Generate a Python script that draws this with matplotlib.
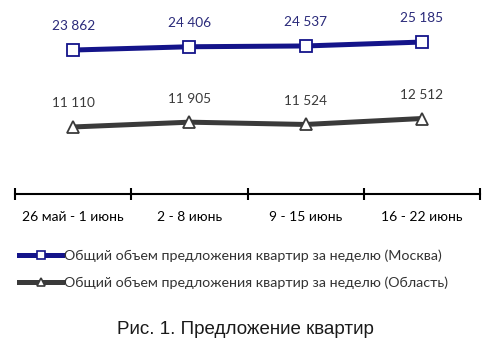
import matplotlib
matplotlib.use("Agg")
import matplotlib.pyplot as plt
from matplotlib.lines import Line2D

categories = ["26 май - 1 июнь", "2 - 8 июнь", "9 - 15 июнь", "16 - 22 июнь"]
moscow = [23862, 24406, 24537, 25185]
oblast = [11110, 11905, 11524, 12512]
moscow_labels = ["23 862", "24 406", "24 537", "25 185"]
oblast_labels = ["11 110", "11 905", "11 524", "12 512"]
series_names = ["Общий объем предложения квартир за неделю (Москва)",
                "Общий объем предложения квартир за неделю (Область)"]
title = "Рис. 1. Предложение квартир"

navy = "#14148a"
gray = "#3a3a3a"
font = ["Lato", "DejaVu Sans"]

fig = plt.figure(figsize=(4.9, 3.52), dpi=100)
ax = fig.add_axes([15/490, (352-194)/352, 465/490, 181/352])
x = list(range(len(categories)))
ax.plot(x, moscow, color=navy, lw=3.6, marker="s", ms=8, mfc="white", mec=navy, mew=1.3, solid_capstyle="butt")
ax.plot(x, oblast, color=gray, lw=3.6, marker="^", ms=8, mfc="white", mec=gray, mew=1.3, solid_capstyle="butt")
for xi, v, t in zip(x, moscow, moscow_labels):
    ax.annotate(t, (xi, v), xytext=(0, 17), textcoords="offset points", ha="center", va="center",
                color="#2a2a7a", fontsize=9.8, family=font)
for xi, v, t in zip(x, oblast, oblast_labels):
    ax.annotate(t, (xi, v), xytext=(0, 17), textcoords="offset points", ha="center", va="center",
                color=gray, fontsize=9.8, family=font)

ax.set_xlim(-0.5, len(categories) - 0.5)
ax.set_ylim(0, 30000)
for s in ["top", "right", "left"]:
    ax.spines[s].set_visible(False)
ax.spines["bottom"].set_linewidth(1.5)
ax.set_yticks([])
ax.set_xticks([i - 0.5 for i in range(len(categories) + 1)])
ax.set_xticklabels([])
ax.tick_params(axis="x", direction="inout", length=9, width=1.5)
ax.set_xticks(x, minor=True)
ax.set_xticklabels(categories, minor=True, fontsize=10, family=font)
ax.tick_params(axis="x", which="minor", length=0, pad=12)
ax.patch.set_visible(False)

handles = [Line2D([], [], color=navy, lw=3.6, marker="s", ms=6, mfc="white", mec=navy, mew=1.2),
           Line2D([], [], color=gray, lw=3.6, marker="^", ms=6, mfc="white", mec=gray, mew=1.2)]
leg = fig.legend(handles, series_names, loc="upper left", bbox_to_anchor=(12/490, 1 - 242/352),
                 frameon=False, handlelength=3.0, handletextpad=0.1, labelspacing=1.05,
                 prop={"family": font, "size": 10.3}, labelcolor="#333333", borderpad=0)

fig.text(0.5, 1 - 330/352, title, ha="center", va="center", fontsize=13.5,
         family=["Liberation Sans", "DejaVu Sans"], color="#1a1a1a")

fig.savefig("out.png", dpi=100, facecolor="white")
